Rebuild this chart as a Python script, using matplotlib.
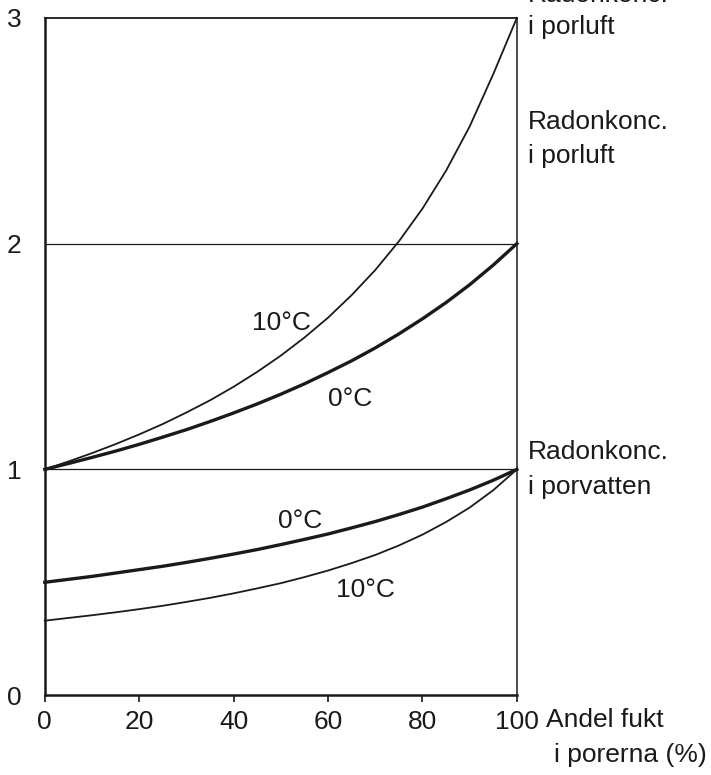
import matplotlib.pyplot as plt

plt.rcParams["font.family"] = ["Liberation Sans", "DejaVu Sans"]

# Andel fukt i porerna (%)
fukt = [0, 5, 10, 15, 20, 25, 30, 35, 40, 45, 50,
        55, 60, 65, 70, 75, 80, 85, 90, 95, 100]

# Radonkoncentration i porluft (relativ)
porluft_10c = [1.000, 1.035, 1.072, 1.112, 1.155, 1.201, 1.252, 1.306, 1.366, 1.432, 1.504,
               1.584, 1.672, 1.772, 1.883, 2.010, 2.155, 2.323, 2.519, 2.751, 3.000]
porluft_0c = [1.000, 1.026, 1.053, 1.081, 1.111, 1.143, 1.176, 1.212, 1.250, 1.290, 1.333,
              1.379, 1.429, 1.481, 1.538, 1.600, 1.667, 1.739, 1.818, 1.905, 2.000]

# Radonkoncentration i porvatten (relativ)
porvatten_0c = [0.500, 0.513, 0.526, 0.541, 0.556, 0.571, 0.588, 0.606, 0.625, 0.645, 0.667,
                0.690, 0.714, 0.741, 0.769, 0.800, 0.833, 0.870, 0.909, 0.952, 1.000]
porvatten_10c = [0.330, 0.342, 0.354, 0.367, 0.381, 0.396, 0.413, 0.431, 0.451, 0.473, 0.496,
                 0.523, 0.552, 0.585, 0.621, 0.663, 0.711, 0.767, 0.831, 0.908, 1.000]

x_ticks = [0, 20, 40, 60, 80, 100]
y_ticks = [0, 1, 2, 3]

ink = "#1a1a1a"
fs = 19

fig = plt.figure(figsize=(7.11, 7.75), dpi=100)
ax = fig.add_axes([0.063, 0.103, 0.664, 0.874])

# reference lines
for y in [1, 2]:
    ax.axhline(y, color=ink, lw=0.9)

# curves: thin = 10 C, thick = 0 C
ax.plot(fukt, porluft_10c, color=ink, lw=1.3, clip_on=False)
ax.plot(fukt, porluft_0c, color=ink, lw=2.4, clip_on=False)
ax.plot(fukt, porvatten_0c, color=ink, lw=2.4, clip_on=False)
ax.plot(fukt, porvatten_10c, color=ink, lw=1.3, clip_on=False)

ax.set_xlim(0, 100)
ax.set_ylim(0, 3)

for side in ["left", "bottom"]:
    ax.spines[side].set_linewidth(1.8)
    ax.spines[side].set_color(ink)
ax.spines["right"].set_linewidth(1.1)
ax.spines["right"].set_color(ink)
ax.spines["top"].set_linewidth(1.3)
ax.spines["top"].set_color(ink)

ax.set_xticks(x_ticks)
ax.set_yticks(y_ticks)
ax.tick_params(axis="x", direction="out", length=5, width=1.2, pad=6,
               labelsize=fs, colors=ink)
ax.tick_params(axis="y", length=0, pad=17, labelsize=fs, colors=ink)

# curve labels
ax.text(50.2, 1.648, "10°C", fontsize=fs, color=ink, ha="center", va="center")
ax.text(64.6, 1.311, "0°C", fontsize=fs, color=ink, ha="center", va="center")
ax.text(54.0, 0.771, "0°C", fontsize=fs, color=ink, ha="center", va="center")
ax.text(68.0, 0.465, "10°C", fontsize=fs, color=ink, ha="center", va="center")

# right-hand labels
right_labels = [
    (102.3, 3.10, "Radonkonc."),
    (102.3, 2.96, "i porluft"),
    (102.3, 2.539, "Radonkonc."),
    (102.3, 2.388, "i porluft"),
    (102.3, 1.077, "Radonkonc."),
    (102.3, 0.922, "i porvatten"),
    (106.1, -0.111, "Andel fukt"),
    (107.8, -0.266, "i porerna (%)"),
]
for x, y, s in right_labels:
    ax.text(x, y, s, fontsize=fs, color=ink, ha="left", va="center", clip_on=False)

fig.savefig("out.png", dpi=100, facecolor="white")
plt.close(fig)
